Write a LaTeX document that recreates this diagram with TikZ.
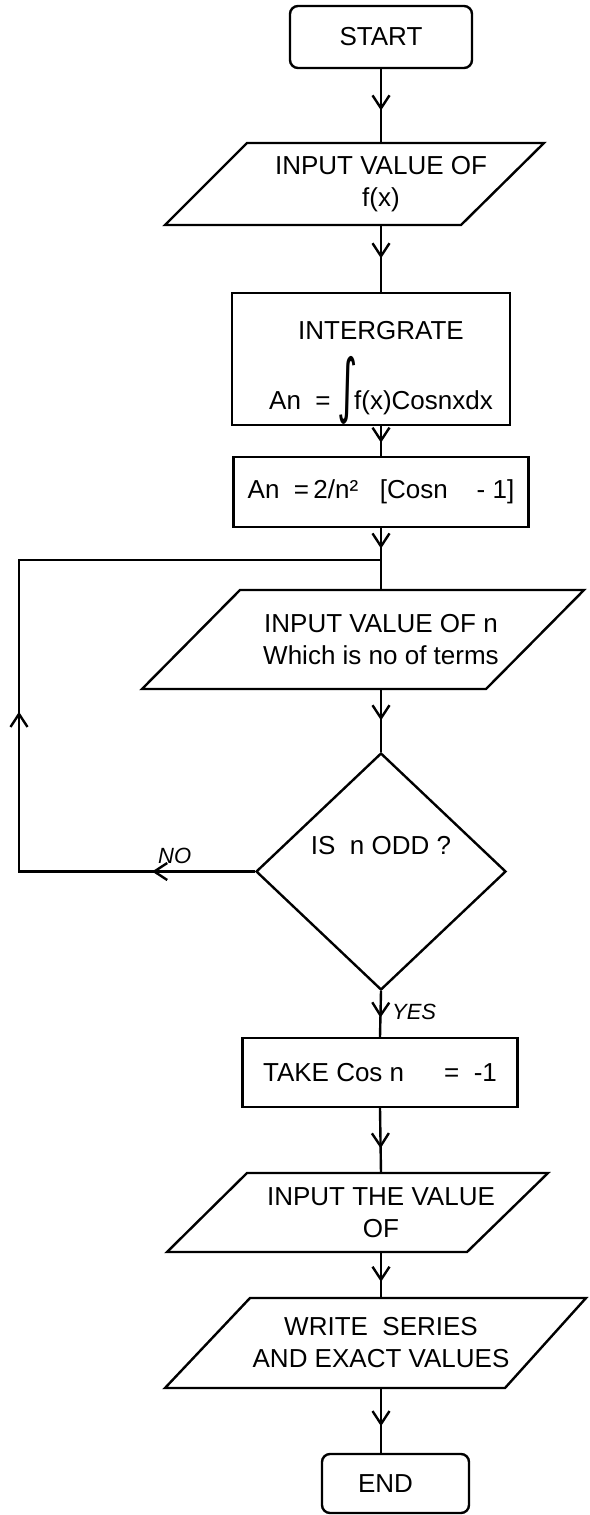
\documentclass[tikz,border=0pt]{standalone}
\usepackage{graphicx}
\usepackage{fontspec}
\setmainfont{Liberation Sans}
\newfontfamily\symfont{DejaVu Sans}
\usetikzlibrary{shapes.geometric, arrows.meta, decorations.markings}

\begin{document}
\begin{tikzpicture}[
      x=1pt, y=-1pt,
      >={Straight Barb[length=13pt,width=17pt]},
      wire/.style={line width=2.4pt},
      box/.style={rectangle, draw, wire, align=center, font=\fontsize{26}{32}\selectfont},
      term/.style={box, rounded corners=8pt},
      io/.style={rectangle, inner sep=0pt, outer sep=0pt, align=center, font=\fontsize{26}{32}\selectfont},
      decision/.style={diamond, draw, wire, inner sep=1pt, minimum width=250, minimum height=237, text depth=52pt, font=\fontsize{26}{32}\selectfont},
      flag/.style={font=\fontsize{22}{24}\selectfont\itshape},
      midarrow/.style={wire, postaction={decorate}, decoration={markings, mark=at position #1 with {\arrow{>}}}},
      midarrow/.default=0.55
    ]
      \useasboundingbox (0,0) rectangle (589,1515);

      \node[term, minimum width=182, minimum height=62] (start) at (381,37)    {START};
      \node[io, minimum height=82]                      (inf)   at (381,184)   {INPUT VALUE OF\\f(x)};
      \node[box, minimum width=278, minimum height=132, text depth=0pt] (intg) at (371,359)
        {\hspace*{20pt}\rule{0pt}{31pt}INTERGRATE\\[16pt]\hspace*{20pt}An\ \ =\ \scalebox{1.5}[2.7]{\symfont ∫}\hspace{-4pt}f(x)Cosnxdx};
      \node[box, minimum width=295, minimum height=70]  (anb)   at (381,492)   {An\ \ =\,2/n²\ \ \ [Cosn\ \ \ \ -\ 1]};
      \node[io, minimum height=99]                      (inn)   at (381,639.5) {INPUT VALUE OF n\\Which is no of terms};
      \node[decision]                                   (odd)   at (381,871.5) {IS\ \ n ODD ?};
      \node[box, minimum width=275, minimum height=69]  (take)  at (380,1072.5){TAKE Cos n\hspace{40pt}=\ \ -1};
      \node[io, minimum height=79]                      (inv)   at (381,1212.5){INPUT THE VALUE\\OF};
      \node[io, minimum height=90]                      (out)   at (381,1343)  {WRITE\ \ SERIES\\AND EXACT VALUES};
      \node[term, minimum width=147, minimum height=59] (stop)  at (395.5,1483.5) {\hspace*{-20pt}END};
      \coordinate (back) at (19,560);

      % parallelograms round the input/output texts
      \foreach \n/\bl/\br/\tl/\tr in {inf/-216/80/-134/163, inn/-239/105/-141/203, inv/-214/86/-134/167, out/-216/124/-131/205}
        \draw[wire] ([xshift=\bl]\n.south) -- ([xshift=\br]\n.south) -- ([xshift=\tr]\n.north) -- ([xshift=\tl]\n.north) -- cycle;

      \draw[midarrow=0.56] (start.south) -- (inf.north);
      \draw[midarrow=0.5]  (inf.south)   -- (inf.south |- intg.north);
      \draw[midarrow=0.56] (anb.north |- intg.south) -- (anb.north);
      \draw[midarrow=0.33] (anb.south)   -- (inn.north);
      \draw[midarrow=0.5]  (inn.south)   -- (odd.north);
      \draw[midarrow=0.58] (odd.south)   -- node[flag, right=7pt, pos=0.45] {YES} (take.north);
      \draw[midarrow=0.62] (take.south)  -- (inv.north);
      \draw[midarrow=0.65] (inv.south)   -- (out.north);
      \draw[midarrow=0.59] (out.south)   -- (out.south |- stop.north);

      % back to the input of n
      \draw[wire, postaction={decorate}, decoration={markings, mark=at position 0.113 with {\arrow{>}}, mark=at position 0.435 with {\arrow{>}}}]
        (odd.west) -- node[flag, above=3pt, pos=0.34] {NO} (odd.west -| back) -- (back) -- (back -| anb.south);
    \end{tikzpicture}
\end{document}
